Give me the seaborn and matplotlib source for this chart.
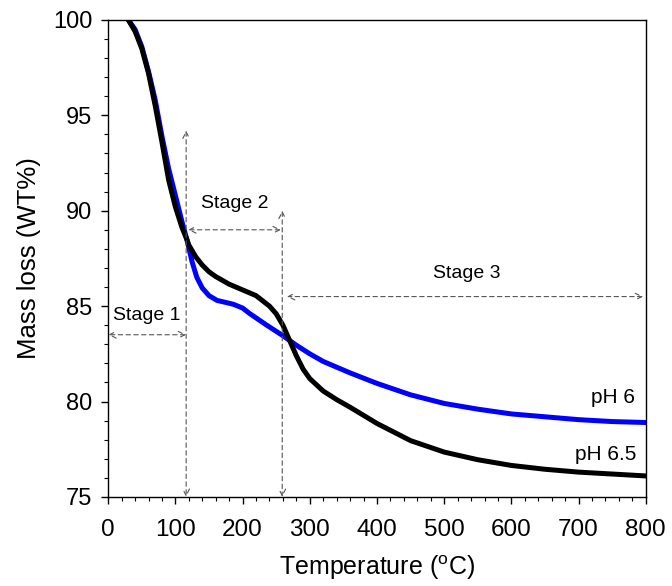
import numpy as np
import pandas as pd
import matplotlib
matplotlib.use("Agg")
import matplotlib.pyplot as plt
import seaborn as sns
from matplotlib.ticker import MultipleLocator

# ---- data ----
temp_65 = [30, 40, 50, 60, 70, 80, 90, 100, 110, 117, 120, 130, 140, 150, 160, 180, 200, 220, 240, 250,
           260, 270, 280, 290, 300, 320, 340, 360, 400, 450, 500, 550, 600, 650, 700, 750, 800]
mass_65 = [100, 99.4, 98.5, 97.2, 95.5, 93.6, 91.6, 90.2, 89.1, 88.5, 88.2, 87.6, 87.15, 86.8, 86.55, 86.15, 85.85, 85.55, 85.0, 84.6,
           84.0, 83.2, 82.4, 81.7, 81.2, 80.55, 80.1, 79.7, 78.85, 77.95, 77.35, 76.95, 76.65, 76.45, 76.3, 76.2, 76.1]

temp_6 = [30, 40, 50, 60, 70, 80, 90, 100, 110, 117, 125, 132, 140, 150, 162, 186, 200, 211, 236,
          260, 280, 300, 320, 360, 400, 450, 500, 550, 600, 650, 700, 750, 800]
mass_6 = [100, 99.5, 98.6, 97.3, 95.8, 93.9, 92.2, 90.8, 89.4, 88.5, 87.3, 86.5, 85.95, 85.55, 85.3, 85.1, 84.9, 84.6, 84.0,
          83.45, 82.95, 82.5, 82.1, 81.5, 80.95, 80.35, 79.9, 79.6, 79.35, 79.2, 79.05, 78.95, 78.9]

series_labels = ["pH 6", "pH 6.5"]
stage_labels = ["Stage 1", "Stage 2", "Stage 3"]
stage_bounds = [0, 116, 259, 263, 796]
x_ticks = [0, 100, 200, 300, 400, 500, 600, 700, 800]
y_ticks = [75, 80, 85, 90, 95, 100]

df = pd.concat([
    pd.DataFrame({"T": temp_6, "W": mass_6, "s": series_labels[0]}),
    pd.DataFrame({"T": temp_65, "W": mass_65, "s": series_labels[1]}),
])

sns.set_theme(style="ticks")
plt.rcParams['font.family'] = ['Liberation Sans', 'DejaVu Sans']
plt.rcParams['mathtext.fontset'] = 'custom'
plt.rcParams['mathtext.rm'] = 'Liberation Sans'
for k in ['text.color', 'axes.labelcolor', 'xtick.color', 'ytick.color', 'axes.edgecolor']:
    plt.rcParams[k] = 'black'

fig = plt.figure(figsize=(6.72, 5.86), dpi=100)
ax = fig.add_axes([0.161, 0.152, 0.800, 0.814])

sns.lineplot(data=df, x="T", y="W", hue="s", hue_order=series_labels,
             palette={"pH 6": "#0000ff", "pH 6.5": "#000000"}, linewidth=3.6,
             legend=False, ax=ax, sort=False, estimator=None)
for l in ax.lines:
    l.set_solid_capstyle("round")
    l.set_solid_joinstyle("round")
ax.lines[1].set_zorder(3)
ax.lines[0].set_zorder(2)

ax.set_xlim(0, 800)
ax.set_ylim(75, 100)
ax.set_xticks(x_ticks)
ax.set_yticks(y_ticks)
ax.xaxis.set_minor_locator(MultipleLocator(20))
ax.yaxis.set_minor_locator(MultipleLocator(1))
ax.tick_params(axis='both', which='major', direction='out', length=5, width=1)
ax.tick_params(axis='both', which='minor', direction='out', length=3.2, width=0.8)
ax.tick_params(axis='x', which='major', labelsize=17.5, pad=11)
ax.tick_params(axis='y', which='major', labelsize=17, pad=6.5)
for sp in ax.spines.values():
    sp.set_visible(True)
    sp.set_linewidth(1.0)
    sp.set_color('black')

ax.set_xlabel("Temperature ($^{\\mathregular{o}}$C)", fontsize=18)
ax.set_ylabel("Mass loss (WT%)", fontsize=18.5)
ax.xaxis.set_label_coords(0.5, -0.118)
ax.yaxis.set_label_coords(-0.125, 0.5)

arrow_kw = dict(arrowstyle="<->", linestyle=(0, (4, 3)), color="#555555", lw=0.8,
                shrinkA=0, shrinkB=0, mutation_scale=12)

# vertical boundaries
ax.annotate("", xy=(stage_bounds[1], 75), xytext=(stage_bounds[1], 94.2), arrowprops=arrow_kw)
ax.annotate("", xy=(stage_bounds[2], 75), xytext=(stage_bounds[2], 90.0), arrowprops=arrow_kw)
# horizontal stage arrows
ax.annotate("", xy=(stage_bounds[0], 83.5), xytext=(stage_bounds[1], 83.5), arrowprops=arrow_kw)
ax.annotate("", xy=(stage_bounds[1] + 3, 89.0), xytext=(stage_bounds[2] - 2, 89.0), arrowprops=arrow_kw)
ax.annotate("", xy=(stage_bounds[3] + 3, 85.5), xytext=(stage_bounds[4], 85.5), arrowprops=arrow_kw)

ax.text(58, 84.5, stage_labels[0], fontsize=14, ha='center', va='center')
ax.text(189, 90.4, stage_labels[1], fontsize=14, ha='center', va='center')
ax.text(534, 86.7, stage_labels[2], fontsize=14, ha='center', va='center')
ax.text(784, 80.2, series_labels[0], fontsize=15, ha='right', va='center')
ax.text(786, 77.2, series_labels[1], fontsize=15, ha='right', va='center')

fig.savefig("out.png", dpi=100)
